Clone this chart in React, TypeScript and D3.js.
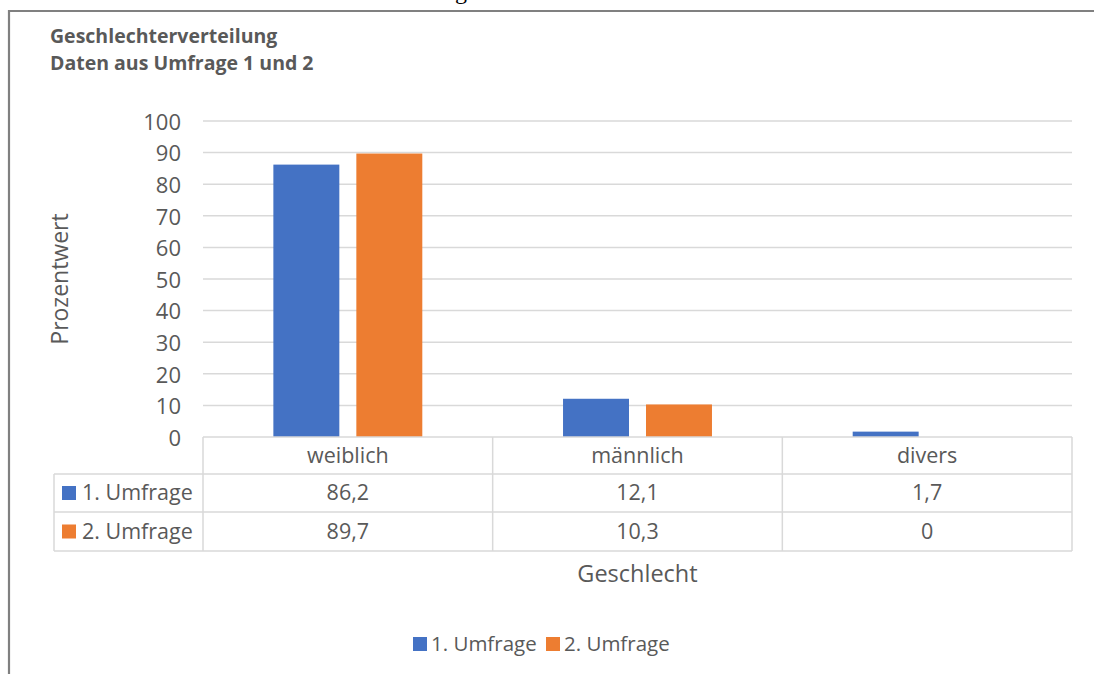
import React from "react";
import * as d3 from "d3";

// Survey results: gender distribution in percent
const categories = ["weiblich", "männlich", "divers"];
const seriesNames = ["1. Umfrage", "2. Umfrage"];
const umfrage1 = [86.2, 12.1, 1.7];
const umfrage2 = [89.7, 10.3, 0];
const seriesColors = ["#4472C4", "#ED7D31"];
const yTicks = [0, 10, 20, 30, 40, 50, 60, 70, 80, 90, 100];
const valueLabels1 = ["86,2", "12,1", "1,7"];
const valueLabels2 = ["89,7", "10,3", "0"];

const W = 1094;
const H = 674;
const textColor = "#595959";
const gridColor = "#D9D9D9";
const font = "'Open Sans', 'DejaVu Sans', sans-serif";

export default function App() {
  const plotLeft = 203;
  const plotRight = 1072;
  const plotTop = 121;
  const plotBottom = 437;

  const x = d3.scaleBand<string>().domain(categories).range([plotLeft, plotRight]);
  const xInner = d3
    .scaleBand<string>()
    .domain(seriesNames)
    .range([0, x.bandwidth()])
    .paddingInner(0.205)
    .paddingOuter(0.848);
  const y = d3.scaleLinear().domain([0, 100]).range([plotBottom, plotTop]);

  const series = [umfrage1, umfrage2];
  const valueLabels = [valueLabels1, valueLabels2];

  const headerBottom = 474;
  const rowBottoms = [512, 551];
  const tableLeft = 54;
  const tableFont = 21.5;

  return (
    <svg
      width={W}
      height={H}
      viewBox={`0 0 ${W} ${H}`}
      style={{ position: "absolute", left: 0, top: 0, background: "#fff" }}
    >
      {/* caption descender peeking in from above */}
      <text x={455} y={-1} fontFamily="'Liberation Serif', serif" fontSize={24} fill="#000">
        g
      </text>

      {/* frame */}
      <line x1={8} x2={W} y1={11} y2={11} stroke="#808080" strokeWidth={2.2} />
      <line x1={9} x2={9} y1={10} y2={H} stroke="#808080" strokeWidth={2.2} />

      {/* title */}
      <text x={50} y={43} fontFamily={font} fontWeight="bold" fontSize={19.5} fill={textColor}>
        Geschlechterverteilung
      </text>
      <text x={50} y={70} fontFamily={font} fontWeight="bold" fontSize={19.5} fill={textColor}>
        Daten aus Umfrage 1 und 2
      </text>

      {/* gridlines and y tick labels */}
      {yTicks.map((t) => (
        <g key={t}>
          {t > 0 && (
            <line
              x1={plotLeft}
              x2={plotRight}
              y1={y(t)}
              y2={y(t)}
              stroke={gridColor}
              strokeWidth={1.5}
            />
          )}
          <text
            x={181}
            y={y(t)}
            dy="0.4em"
            textAnchor="end"
            fontFamily={font}
            fontSize={22}
            fill={textColor}
          >
            {t}
          </text>
        </g>
      ))}

      {/* y axis title */}
      <text
        transform={`translate(68,${(plotTop + plotBottom) / 2}) rotate(-90)`}
        textAnchor="middle"
        fontFamily={font}
        fontSize={23}
        fill={textColor}
      >
        Prozentwert
      </text>

      {/* bars */}
      {categories.map((c, ci) =>
        series.map((s, si) => (
          <rect
            key={`${c}-${si}`}
            x={(x(c) ?? 0) + (xInner(seriesNames[si]) ?? 0)}
            y={y(s[ci])}
            width={xInner.bandwidth()}
            height={plotBottom - y(s[ci])}
            fill={seriesColors[si]}
          />
        ))
      )}

      {/* data table */}
      <g stroke={gridColor} strokeWidth={1.5}>
        <line x1={plotLeft} x2={plotRight} y1={plotBottom} y2={plotBottom} />
        <line x1={tableLeft} x2={plotRight} y1={headerBottom} y2={headerBottom} />
        {rowBottoms.map((rb) => (
          <line key={rb} x1={tableLeft} x2={plotRight} y1={rb} y2={rb} />
        ))}
        <line x1={tableLeft} x2={tableLeft} y1={headerBottom} y2={rowBottoms[1]} />
        {categories.map((c) => (
          <line key={c} x1={x(c)} x2={x(c)} y1={plotBottom} y2={rowBottoms[1]} />
        ))}
        <line x1={plotRight} x2={plotRight} y1={plotBottom} y2={rowBottoms[1]} />
      </g>
      {categories.map((c) => (
        <text
          key={c}
          x={(x(c) ?? 0) + x.bandwidth() / 2}
          y={(plotBottom + headerBottom) / 2}
          dy="0.33em"
          textAnchor="middle"
          fontFamily={font}
          fontSize={tableFont}
          fill={textColor}
        >
          {c}
        </text>
      ))}
      {seriesNames.map((name, si) => {
        const top = si === 0 ? headerBottom : rowBottoms[0];
        const bottom = rowBottoms[si];
        const mid = (top + bottom) / 2;
        return (
          <g key={name}>
            <rect x={62} y={mid - 7} width={14} height={14} fill={seriesColors[si]} />
            <text
              x={82}
              y={mid}
              dy="0.33em"
              fontFamily={font}
              fontSize={tableFont}
              fill={textColor}
            >
              {name}
            </text>
            {categories.map((c, ci) => (
              <text
                key={c}
                x={(x(c) ?? 0) + x.bandwidth() / 2}
                y={mid}
                dy="0.33em"
                textAnchor="middle"
                fontFamily={font}
                fontSize={tableFont}
                fill={textColor}
              >
                {valueLabels[si][ci]}
              </text>
            ))}
          </g>
        );
      })}

      {/* x axis title */}
      <text
        x={(plotLeft + plotRight) / 2}
        y={582}
        textAnchor="middle"
        fontFamily={font}
        fontSize={23.5}
        fill={textColor}
      >
        Geschlecht
      </text>

      {/* legend */}
      {seriesNames.map((name, si) => {
        const lx = si === 0 ? 413 : 546;
        return (
          <g key={name}>
            <rect x={lx} y={637} width={14} height={14} fill={seriesColors[si]} />
            <text x={lx + 18} y={651} fontFamily={font} fontSize={20.5} fill={textColor}>
              {name}
            </text>
          </g>
        );
      })}
    </svg>
  );
}
